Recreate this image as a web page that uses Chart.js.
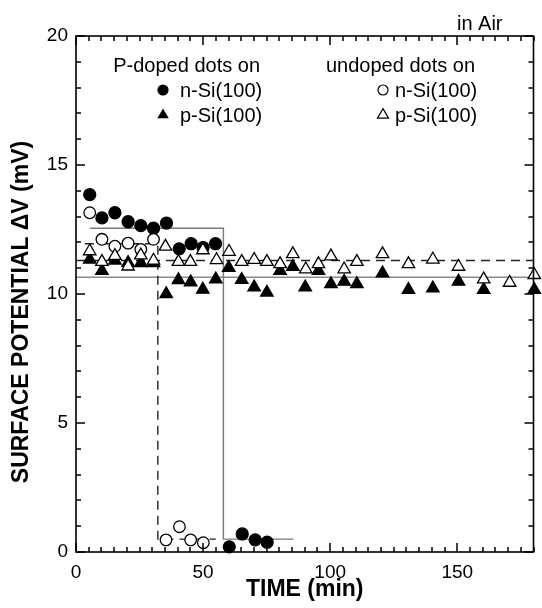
<!DOCTYPE html>
<html>
<head>
<meta charset="utf-8">
<script src="https://cdn.jsdelivr.net/npm/chart.js@4/dist/chart.umd.min.js"></script>
<style>
html,body{margin:0;padding:0;background:#fff;}
canvas{display:block;}
</style>
</head>
<body>
<canvas id="c" width="542" height="608"></canvas>
<script>
// ---- data ----
// P-doped dots on n-Si(100)  (filled circles)
const pnX = [5.4, 10.2, 15.3, 20.5, 25.5, 30.5, 35.6, 40.6, 45.3, 50.0, 54.9, 60.3, 65.4, 70.5, 75.2];
const pnY = [13.85, 12.95, 13.15, 12.8, 12.65, 12.55, 12.75, 11.75, 11.95, 11.8, 11.95, 0.2, 0.7, 0.47, 0.38];
// undoped dots on n-Si(100)  (open circles)
const ucX = [5.4, 10.2, 15.3, 20.5, 25.5, 30.5, 35.4, 40.7, 45.1, 50.1];
const ucY = [13.15, 12.12, 11.85, 11.97, 11.73, 12.12, 0.47, 0.98, 0.47, 0.36];
// P-doped dots on p-Si(100)  (filled triangles)
const ptX = [5.4, 10.2, 15.3, 20.5, 25.5, 30.5, 35.5, 40.3, 45.1, 49.9, 55.0, 60.1, 65.2, 70.1, 75.1, 80.3, 85.3, 90.2, 95.4, 100.3, 105.5, 110.5, 120.6, 130.8, 140.4, 150.5, 160.4, 180.3];
const ptY = [11.34, 10.9, 11.3, 11.21, 11.2, 11.2, 10.0, 10.54, 10.46, 10.17, 10.57, 11.02, 10.55, 10.26, 10.06, 10.9, 11.06, 10.26, 10.9, 10.39, 10.48, 10.39, 10.8, 10.16, 10.22, 10.48, 10.16, 10.16];
// undoped dots on p-Si(100)  (open triangles)
const utX = [5.4, 10.2, 15.3, 20.5, 25.5, 30.5, 35.2, 40.3, 45.0, 49.9, 55.3, 60.2, 65.2, 70.1, 75.1, 80.3, 85.3, 90.4, 95.4, 100.3, 105.5, 110.5, 120.6, 130.8, 140.4, 150.5, 160.4, 170.6, 180.3];
const utY = [11.66, 11.25, 11.48, 11.07, 11.5, 11.3, 11.84, 11.25, 11.25, 11.7, 11.32, 11.64, 11.25, 11.33, 11.25, 11.16, 11.55, 10.96, 11.16, 11.46, 10.96, 11.25, 11.55, 11.16, 11.34, 11.06, 10.57, 10.44, 10.74];
// mean-level guide lines
const pnFitX = [5.5, 58.0, 58.0, 85.5];
const pnFitY = [12.55, 12.55, 0.5, 0.5];
const ucFitX = [3.5, 32.2, 32.2, 55.0];
const ucFitY = [11.95, 11.95, 0.5, 0.5];
const ptFitX = [0, 180];
const ptFitY = [10.65, 10.65];
const utFitX = [0, 180];
const utFitY = [11.3, 11.3];
// axes
const xTickLabels = [0, 50, 100, 150];
const yTickLabels = [0, 5, 10, 15, 20];
const xRange = [0, 180];
const yRange = [0, 20];
const xMinorStep = 5;
const yMinorStep = 1;

const FONT = "'Liberation Sans', Arial, Helvetica, sans-serif";
const pts = (xs, ys) => xs.map((x, i) => ({x: x, y: ys[i]}));

const markerDS = (label, xs, ys, style, fill, r) => ({
  label: label, data: pts(xs, ys), showLine: false, pointStyle: style,
  pointRadius: r, pointHoverRadius: r, pointBackgroundColor: fill,
  pointBorderColor: '#000', pointBorderWidth: 1.3, clip: false
});
const lineDS = (xs, ys, color, dash) => ({
  data: pts(xs, ys), showLine: true, pointRadius: 0, pointHoverRadius: 0,
  borderColor: color, borderWidth: 1.4, borderDash: dash, fill: false, tension: 0
});

const framePlugin = {
  id: 'frame',
  afterDatasetsDraw(chart) {
    const {ctx, chartArea: a, scales} = chart;
    const xs = scales.x, ys = scales.y;
    ctx.save();
    ctx.setLineDash([]);
    ctx.strokeStyle = '#000';
    ctx.lineWidth = 1.5;
    ctx.beginPath();
    for (let v = xRange[0]; v <= xRange[1]; v += xMinorStep) {
      const px = Math.round(xs.getPixelForValue(v));
      const L = (v % 50 === 0) ? 9 : 5;
      ctx.moveTo(px, a.bottom); ctx.lineTo(px, a.bottom - L);
      ctx.moveTo(px, a.top); ctx.lineTo(px, a.top + L);
    }
    for (let v = yRange[0]; v <= yRange[1]; v += yMinorStep) {
      const py = Math.round(ys.getPixelForValue(v));
      const L = (v % 5 === 0) ? 9 : 5;
      ctx.moveTo(a.left, py); ctx.lineTo(a.left + L, py);
      ctx.moveTo(a.right, py); ctx.lineTo(a.right - L, py);
    }
    ctx.stroke();
    ctx.lineWidth = 1.6;
    ctx.strokeRect(a.left, a.top, a.right - a.left, a.bottom - a.top);
    ctx.restore();
  },
  afterDraw(chart) {
    const {ctx, chartArea: a} = chart;
    ctx.save();
    ctx.fillStyle = '#000';
    // y-axis title
    ctx.save();
    ctx.translate(22, a.top + 276);
    ctx.rotate(-Math.PI / 2);
    ctx.font = "bold 23px " + FONT;
    ctx.textAlign = 'center';
    ctx.textBaseline = 'middle';
    ctx.fillText('SURFACE POTENTIAL \u0394V (mV)', 0, 0);
    ctx.restore();
    // "in Air"
    ctx.font = "20px " + FONT;
    ctx.textAlign = 'right';
    ctx.textBaseline = 'alphabetic';
    ctx.fillText('in Air', a.right - 31, a.top - 6);
    // legend headers
    ctx.fillText('P-doped dots on', a.left + 184, a.top + 36);
    ctx.fillText('undoped dots on', a.left + 399, a.top + 36);
    ctx.textAlign = 'left';
    ctx.fillText('n-Si(100)', a.left + 104, a.top + 61);
    ctx.fillText('p-Si(100)', a.left + 104, a.top + 86);
    ctx.fillText('n-Si(100)', a.left + 319, a.top + 61);
    ctx.fillText('p-Si(100)', a.left + 319, a.top + 86);
    // legend symbols
    const tri = (cx, cy, r) => {
      ctx.beginPath();
      ctx.moveTo(cx, cy - r);
      ctx.lineTo(cx + r * Math.sin(2 * Math.PI / 3), cy - r * Math.cos(2 * Math.PI / 3));
      ctx.lineTo(cx + r * Math.sin(4 * Math.PI / 3), cy - r * Math.cos(4 * Math.PI / 3));
      ctx.closePath();
    };
    ctx.lineWidth = 1.2;
    ctx.strokeStyle = '#000';
    ctx.beginPath(); ctx.arc(a.left + 87, a.top + 54, 5.6, 0, Math.PI * 2); ctx.fill();
    tri(a.left + 87, a.top + 79, 6.6); ctx.fill();
    ctx.fillStyle = '#fff';
    ctx.beginPath(); ctx.arc(a.left + 307, a.top + 54, 5.0, 0, Math.PI * 2); ctx.fill(); ctx.stroke();
    tri(a.left + 307, a.top + 79, 6.4); ctx.fill(); ctx.stroke();
    ctx.restore();
  }
};

new Chart(document.getElementById('c'), {
  type: 'scatter',
  data: {
    datasets: [
      markerDS('undoped p-Si(100)', utX, utY, 'triangle', '#fff', 7.2),
      markerDS('undoped n-Si(100)', ucX, ucY, 'circle', '#fff', 5.8),
      markerDS('P-doped p-Si(100)', ptX, ptY, 'triangle', '#000', 7.2),
      markerDS('P-doped n-Si(100)', pnX, pnY, 'circle', '#000', 6.0),
      lineDS(pnFitX, pnFitY, '#7a7a7a', []),
      lineDS(ucFitX, ucFitY, '#222', [9, 6]),
      lineDS(ptFitX, ptFitY, '#8a8a8a', []),
      lineDS(utFitX, utFitY, '#222', [9, 6])
    ]
  },
  options: {
    responsive: false,
    animation: false,
    devicePixelRatio: 1,
    layout: {padding: {top: 36, right: 8, left: 0, bottom: 0}},
    plugins: {legend: {display: false}, tooltip: {enabled: false}},
    scales: {
      x: {
        type: 'linear', min: xRange[0], max: xRange[1],
        afterFit(s) { s.height = 56; },
        afterBuildTicks(s) { s.ticks = xTickLabels.map(v => ({value: v})); },
        grid: {display: false, drawTicks: false},
        border: {display: false},
        ticks: {padding: 9, color: '#000', maxRotation: 0, font: {family: FONT, size: 19}},
        title: {display: true, text: 'TIME (min)', color: '#000',
                font: {family: FONT, size: 23, weight: 'bold'}, padding: {top: 0, bottom: 5}}
      },
      y: {
        type: 'linear', min: yRange[0], max: yRange[1],
        afterFit(s) { s.width = 76; },
        afterBuildTicks(s) { s.ticks = yTickLabels.map(v => ({value: v})); },
        grid: {display: false, drawTicks: false},
        border: {display: false},
        ticks: {padding: 8, color: '#000', font: {family: FONT, size: 19}},
        title: {display: false}
      }
    }
  },
  plugins: [framePlugin]
});
</script>
</body>
</html>
